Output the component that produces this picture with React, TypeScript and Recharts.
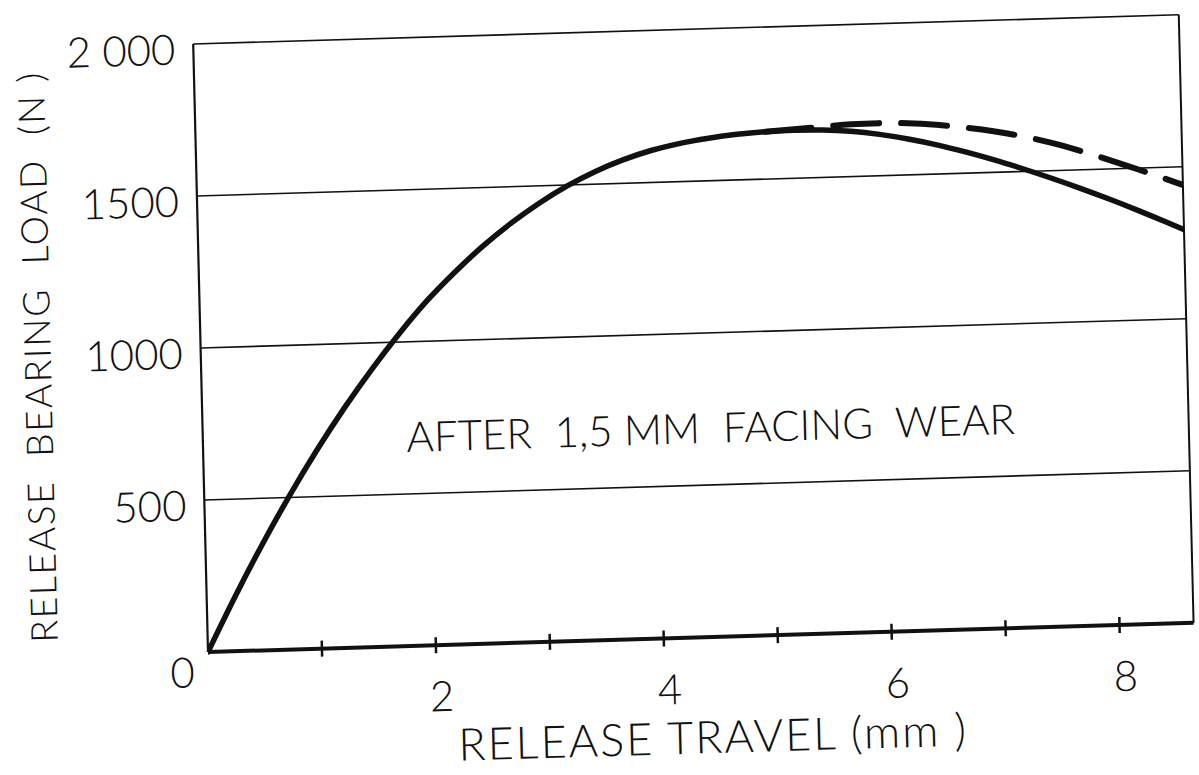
import React from "react";
import {
  LineChart,
  Line,
  XAxis,
  YAxis,
  CartesianGrid,
  ReferenceLine,
} from "recharts";

// Release bearing load against release travel, new facing (solid) and worn facing (dashed)
const travelSolid = [
  0, 0.25, 0.5, 0.75, 1.0, 1.25, 1.5, 1.75, 2.0, 2.25, 2.5, 2.75, 3.0, 3.25, 3.5,
  3.75, 4.0, 4.25, 4.5, 4.75, 5.0, 5.25, 5.5, 5.75, 6.0, 6.25, 6.5, 6.75, 7.0,
  7.25, 7.5, 7.75, 8.0, 8.25, 8.5, 8.65,
];
const loadSolid = [
  0, 180, 349, 507, 654, 790, 915, 1030, 1135, 1226, 1308, 1380, 1443, 1497, 1542,
  1578, 1606, 1626, 1640, 1650, 1656, 1658, 1656, 1649, 1636, 1618, 1596, 1570, 1541,
  1509, 1475, 1439, 1401, 1361, 1319, 1293,
];

const travelDashed = [
  5.0, 5.25, 5.5, 5.75, 6.0, 6.25, 6.5, 6.75, 7.0, 7.25, 7.5, 7.75, 8.0, 8.25, 8.5, 8.65,
];
const loadDashed = [
  1656, 1661, 1667, 1672, 1673, 1670, 1662, 1650, 1635, 1616, 1592, 1563, 1531, 1497, 1462, 1440,
];

const xTicks = [1, 2, 3, 4, 5, 6, 7, 8];
const yTicks = [0, 500, 1000, 1500, 2000];
const X_MAX = 8.65;

const solidData = travelSolid.map((t, i) => ({ travel: t, load: loadSolid[i] }));
const dashedData = travelDashed.map((t, i) => ({ travel: t, load: loadDashed[i] }));

const INK = "#111";
const FONT = "Lato, 'Liberation Sans', Arial, sans-serif";
const W = 1199;
const H = 775;

// x ticks cross the axis; only even values get a number
const XTick = ({ x, y, payload }: any) => (
  <g>
    <line x1={x} x2={x} y1={y - 8} y2={y + 8} stroke={INK} strokeWidth={2.5} />
    {payload.value % 2 === 0 && (
      <text
        x={x + 5}
        y={y + 66}
        textAnchor="middle"
        fontSize={42}
        fontFamily={FONT}
        fontWeight={300}
        fill={INK}
      >
        {payload.value}
      </text>
    )}
  </g>
);

const YTick = ({ x, y, payload }: any) => {
  const v = payload.value;
  if (v === 0) {
    return (
      <text x={x - 26} y={y + 35} textAnchor="middle" fontSize={42} fontFamily={FONT} fontWeight={300} fill={INK}>
        0
      </text>
    );
  }
  return (
    <text x={x - 18} y={y + 20} textAnchor="end" fontSize={42} fontFamily={FONT} fontWeight={300} fill={INK}>
      {v === 2000 ? "2 000" : v}
    </text>
  );
};

export default function App() {
  return (
    <div
      style={{
        position: "absolute",
        left: 0,
        top: 0,
        width: W,
        height: H,
        background: "#fff",
        overflow: "hidden",
      }}
    >
      {/* the printed figure sits slightly askew on the page */}
      <div
        style={{
          position: "absolute",
          left: 0,
          top: 0,
          width: W,
          height: H,
          transform: "matrix(0.99956, -0.02966, 0.02434, 1, 0, 0)",
          transformOrigin: "208px 652px",
        }}
      >
        <LineChart
          width={W}
          height={H}
          margin={{ top: 44, right: 5, left: 0, bottom: 63 }}
        >
          <CartesianGrid vertical={false} stroke={INK} strokeWidth={1.6} />
          <XAxis
            type="number"
            dataKey="travel"
            domain={[0, X_MAX]}
            ticks={xTicks}
            allowDataOverflow
            height={60}
            tickSize={0}
            tickMargin={0}
            tickLine={false}
            axisLine={{ stroke: INK, strokeWidth: 4 }}
            tick={<XTick />}
          />
          <YAxis
            type="number"
            domain={[0, 2000]}
            ticks={yTicks}
            width={208}
            tickSize={0}
            tickMargin={0}
            tickLine={false}
            axisLine={{ stroke: INK, strokeWidth: 2.2 }}
            tick={<YTick />}
          />
          <ReferenceLine x={X_MAX} stroke={INK} strokeWidth={2} />
          <Line
            data={dashedData}
            dataKey="load"
            type="monotone"
            stroke={INK}
            strokeWidth={6}
            strokeDasharray="46 22"
            strokeLinecap="round"
            dot={false}
            activeDot={false}
            isAnimationActive={false}
          />
          <Line
            data={solidData}
            dataKey="load"
            type="monotone"
            stroke={INK}
            strokeWidth={5.5}
            strokeLinecap="round"
            strokeLinejoin="round"
            dot={false}
            activeDot={false}
            isAnimationActive={false}
          />
        </LineChart>

        <svg
          width={W}
          height={H}
          style={{ position: "absolute", left: 0, top: 0, pointerEvents: "none" }}
        >
          <text
            x={711}
            y={768}
            textAnchor="middle"
            fontSize={45}
            fontFamily={FONT}
            fontWeight={300}
            letterSpacing={2}
            fill={INK}
            style={{ whiteSpace: "pre" }}
          >
            RELEASE TRAVEL (mm )
          </text>
          <text
            transform="translate(58, 352) rotate(-90)"
            textAnchor="middle"
            fontSize={37}
            fontFamily={FONT}
            fontWeight={300}
            letterSpacing={1.8}
            fill={INK}
            style={{ whiteSpace: "pre" }}
          >
            RELEASE  BEARING  LOAD  (N )
          </text>
          <text
            x={716}
            y={458}
            textAnchor="middle"
            fontSize={42}
            fontFamily={FONT}
            fontWeight={300}
            fill={INK}
            style={{ whiteSpace: "pre" }}
          >
            AFTER  1,5 MM  FACING  WEAR
          </text>
        </svg>
      </div>
    </div>
  );
}
